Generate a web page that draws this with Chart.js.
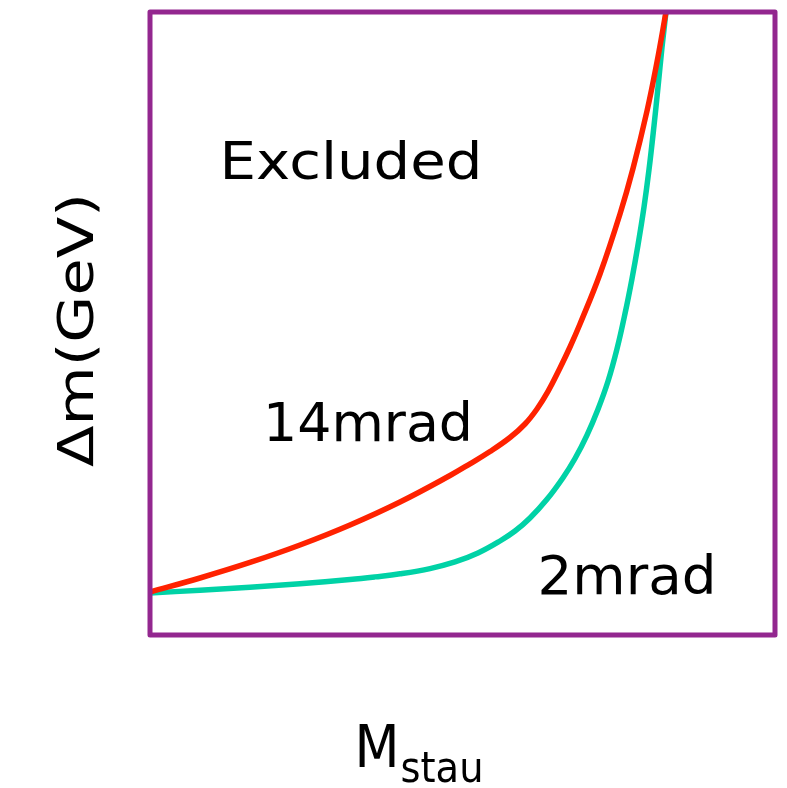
<!DOCTYPE html>
<html>
<head>
<meta charset="utf-8">
<script src="https://cdn.jsdelivr.net/npm/chart.js@4"></script>
<style>
html,body{margin:0;padding:0;background:#fff;}
#wrap{width:787px;height:788px;position:relative;}
</style>
</head>
<body>
<div id="wrap"><canvas id="c"></canvas></div>
<script>
// Data (arbitrary units: x = M_stau, y = Δm)
const red14X = [0, 8, 16, 24, 32, 40, 48, 51.2, 54.4, 57.6, 60, 61.92, 63.68, 65.6, 67.2, 68.8, 72, 75.2, 77.28, 79.52, 81.12, 82.56];
const red14Y = [6.9, 9.15, 11.64, 14.45, 17.66, 21.35, 25.6, 27.48, 29.45, 31.7, 33.87, 36.28, 39.1, 42.86, 46.23, 49.92, 57.95, 67.58, 74.88, 84.11, 91.97, 100];
const green2X = [0, 8, 16, 24, 32, 36, 40, 44.8, 48.8, 52.48, 56, 58.4, 60.8, 63.52, 66.08, 68, 69.92, 71.68, 73.28, 74.72, 76, 77.12, 78.08, 79.04, 79.84, 80.64, 81.28, 81.92, 82.56];
const green2Y = [6.74, 7.19, 7.67, 8.23, 8.91, 9.33, 9.82, 10.66, 11.72, 13.16, 15.09, 16.69, 18.78, 21.78, 25.25, 28.33, 32.09, 36.24, 40.73, 45.93, 51.58, 57.2, 62.6, 68.67, 74.69, 81.75, 87.91, 94.33, 100];
const labelExcluded = "Excluded";
const label14 = "14mrad";
const label2 = "2mrad";
const yTitle = "Δm(GeV)";
const xTitleMain = "M";
const xTitleSub = "stau";

const FONT = '"Comic Sans MS", "DejaVu Sans", sans-serif';

function pts(xs, ys){ return xs.map((x,i)=>({x:x, y:ys[i]})); }

// draw text centred at cx, baseline by, stretched horizontally to width w
function fitText(ctx, text, cx, by, size, w){
  ctx.save();
  ctx.font = size + 'px ' + FONT;
  const mw = ctx.measureText(text).width;
  const s = w / mw;
  ctx.translate(cx, by);
  ctx.scale(s, 1);
  ctx.textAlign = 'center';
  ctx.textBaseline = 'alphabetic';
  ctx.fillText(text, 0, 0);
  ctx.restore();
}

const decor = {
  id: 'decor',
  afterDatasetsDraw(chart){
    const ctx = chart.ctx, a = chart.chartArea;
    ctx.save();
    ctx.strokeStyle = '#93278F';
    ctx.lineWidth = 5;
    ctx.lineJoin = 'round';
    ctx.strokeRect(a.left, a.top, a.right - a.left, a.bottom - a.top);
    ctx.fillStyle = '#000';
    fitText(ctx, labelExcluded, 351, 179, 51, 263);
    fitText(ctx, label14, 368, 441, 54, 210);
    fitText(ctx, label2, 627, 594, 54, 179);
    // y title (rotated)
    ctx.save();
    ctx.translate(93, 330);
    ctx.rotate(-Math.PI/2);
    fitText(ctx, yTitle, 0, 0, 50, 274);
    ctx.restore();
    // x title with subscript
    fitText(ctx, xTitleMain, 377, 767, 58, 45);
    fitText(ctx, xTitleSub, 442, 782, 42, 83);
    ctx.restore();
  }
};

new Chart(document.getElementById('c'), {
  type: 'line',
  data: {
    datasets: [
      { label: label14, data: pts(red14X, red14Y), borderColor: '#FF2200', borderWidth: 5.5,
        pointRadius: 0, tension: 0.4, fill: false, clip: false },
      { label: label2, data: pts(green2X, green2Y), borderColor: '#00D2A6', borderWidth: 5.5,
        pointRadius: 0, tension: 0.4, fill: false, clip: false }
    ]
  },
  options: {
    responsive: true,
    maintainAspectRatio: false,
    animation: false,
    layout: { padding: { left: 150, top: 12, right: 12, bottom: 153 } },
    plugins: { legend: { display: false }, tooltip: { enabled: false } },
    scales: {
      x: { type: 'linear', min: 0, max: 100, display: false },
      y: { type: 'linear', min: 0, max: 100, display: false }
    }
  },
  plugins: [decor]
});
</script>
</body>
</html>
